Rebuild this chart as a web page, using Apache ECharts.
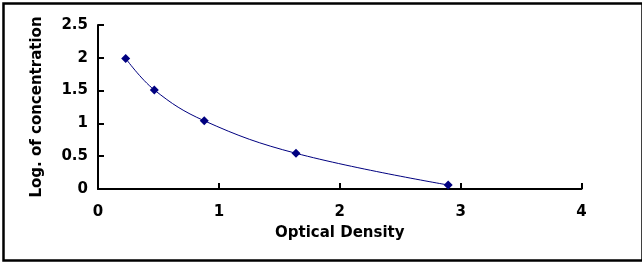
<!DOCTYPE html>
<html>
<head>
<meta charset="utf-8">
<script src="https://cdn.jsdelivr.net/npm/echarts@6/dist/echarts.min.js"></script>
<style>
html,body{margin:0;padding:0;background:#fff;}
#chart{width:642px;height:262px;}
</style>
</head>
<body>
<div id="chart"></div>
<script>
// standard curve points
var od = [0.229, 0.466, 0.879, 1.638, 2.897];
var logConc = [1.99, 1.51, 1.04, 0.544, 0.061];
var xTicks = [0, 1, 2, 3, 4];
var yTicks = [0, 0.5, 1, 1.5, 2, 2.5];

var pts = od.map(function(v, i){ return [v, logConc[i]]; });
var font = 'DejaVu Sans, sans-serif';

var myChart = echarts.init(document.getElementById('chart'));
option = {
	animation: false,
	backgroundColor: '#fff',
	grid: { left: 98, top: 25, right: 60.5, bottom: 73 },
	xAxis: {
		type: 'value',
		min: xTicks[0], max: xTicks[xTicks.length-1], interval: 1,
		name: 'Optical Density',
		nameLocation: 'middle', nameGap: 37,
		nameTextStyle: { fontFamily: font, fontWeight: 'bold', fontSize: 15, color: '#000' },
		axisLine: { lineStyle: { color: '#000', width: 2 } },
		axisTick: { inside: true, length: 6, lineStyle: { color: '#000', width: 2 } },
		axisLabel: { margin: 16, fontFamily: font, fontWeight: 'bold', fontSize: 15, color: '#000' },
		splitLine: { show: false }
	},
	yAxis: {
		type: 'value',
		min: yTicks[0], max: yTicks[yTicks.length-1], interval: 0.5,
		name: 'Log. of concentration',
		nameLocation: 'middle', nameGap: 53,
		nameTextStyle: { fontFamily: font, fontWeight: 'bold', fontSize: 15, color: '#000' },
		axisLine: { show: true, lineStyle: { color: '#000', width: 2 } },
		axisTick: { show: true, inside: true, length: 6, lineStyle: { color: '#000', width: 2 } },
		axisLabel: { margin: 10, fontFamily: font, fontWeight: 'bold', fontSize: 15, color: '#000' },
		splitLine: { show: false }
	},
	graphic: [{
		type: 'rect', left: 1, top: 1,
		shape: { width: 639, height: 257 },
		style: { fill: null, stroke: '#000', lineWidth: 2.5 },
		silent: true
	}],
	series: [{
		type: 'line',
		data: pts,
		smooth: 0.4,
		symbol: 'diamond',
		symbolSize: 9,
		lineStyle: { color: '#000080', width: 1 },
		itemStyle: { color: '#000080' }
	}]
};
myChart.setOption(option);
</script>
</body>
</html>
